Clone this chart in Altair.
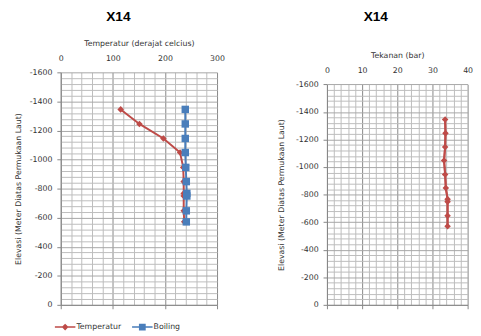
import altair as alt
import pandas as pd

# ---- data ----
elevation = [-1345, -1245, -1145, -1048, -946, -848, -767, -749, -647, -571]
temperatur = [115, 151, 197, 229, 235, 236, 236, 236, 236, 237]
boiling = [239, 239, 239, 239, 240, 241, 242, 242, 241, 241]
tekanan = [33.6, 33.7, 33.6, 33.3, 33.6, 33.8, 34.3, 34.3, 34.3, 34.3]
series_names = ["Temperatur", "Boiling"]

RED = "#BE4B48"
BLUE = "#4A7EBB"
FONT = "DejaVu Sans"
AXIS_COLOR = "#868686"
MINOR_GRID = "#bcbcbc"
TEXT = "#333333"

# legend glyphs: a short line with the marker on it (filled paths)
LEG_DIAMOND = "M-1,-0.07H1V0.07H-1Z M0,-0.33L0.33,0L0,0.33L-0.33,0Z"
LEG_SQUARE = "M-1,-0.07H1V0.07H-1Z M-0.33,-0.33H0.33V0.33H-0.33Z"

n = len(elevation)
idx = list(range(n))
left_df = pd.DataFrame({
    "elev": elevation * 2,
    "val": temperatur + boiling,
    "series": [series_names[0]] * n + [series_names[1]] * n,
    "idx": idx * 2,
})
right_df = pd.DataFrame({"elev": elevation, "val": tekanan, "idx": idx})


def y_axis(title_pad):
    return alt.Axis(
        orient="left", values=list(range(-1600, 1, 40)),
        labelExpr="datum.value % 200 === 0 ? '' + datum.value : ''",
        labelOverlap=False, labelFlush=False,
        grid=True,
        gridColor={"condition": {"test": "datum.value % 200 === 0", "value": "#a6a6a6"}, "value": MINOR_GRID},
        tickOpacity={"condition": {"test": "datum.value % 200 === 0", "value": 1}, "value": 0},
        tickSize=4, tickColor=AXIS_COLOR, domainColor=AXIS_COLOR,
        labelFont=FONT, labelFontSize=8, labelColor=TEXT, labelPadding=5,
        title="Elevasi (Meter Diatas Permukaan Laut)", titleFont=FONT, titleFontSize=8,
        titleFontWeight="normal", titleColor=TEXT, titlePadding=title_pad,
    )


def x_top(maxv, major, minor, title, label_pad, title_pad, offset=0):
    return alt.Axis(
        orient="top", values=list(range(0, maxv + 1, minor)),
        labelExpr=f"datum.value % {major} === 0 ? '' + datum.value : ''",
        labelOverlap=False, labelFlush=False,
        grid=True,
        gridColor={"condition": {"test": f"datum.value % {major} === 0", "value": AXIS_COLOR}, "value": MINOR_GRID},
        ticks=False, tickSize=0, domain=False, offset=offset,
        labelFont=FONT, labelFontSize=8, labelColor=TEXT, labelPadding=label_pad,
        title=title, titleFont=FONT, titleFontSize=8, titleFontWeight="normal",
        titleColor=TEXT, titlePadding=title_pad,
    )


def x_bottom(maxv, major):
    return alt.Axis(
        orient="bottom", values=list(range(0, maxv + 1, major)), labels=False,
        grid=False, ticks=True, tickSize=4, tickColor=AXIS_COLOR,
        domain=True, domainColor=AXIS_COLOR, title=None,
    )


legend = alt.Legend(
    orient="none", legendX=-6, legendY=250, direction="horizontal", title=None,
    labelFont=FONT, labelFontSize=8, labelColor=TEXT, labelOffset=1,
    symbolSize=441, symbolStrokeWidth=0, symbolOpacity=1, columnPadding=11,
)

# ---------------- left panel ----------------
y_left = alt.Y("elev:Q", scale=alt.Scale(domain=[-1600, 0], reverse=True, nice=False), axis=y_axis(7))
x_scale_l = alt.Scale(domain=[0, 300], nice=False)

base_l = alt.Chart(left_df)
t_line = base_l.transform_filter(alt.datum.series == "Temperatur").mark_line(strokeWidth=2, color=RED).encode(
    x=alt.X("val:Q", scale=x_scale_l, axis=x_top(300, 100, 20, "Temperatur (derajat celcius)", 10.5, 7)),
    y=y_left, order="idx:Q")
t_pts = base_l.transform_filter(alt.datum.series == "Temperatur").mark_point(
    filled=True, shape="diamond", size=45, opacity=1, color=RED).encode(
    x=alt.X("val:Q", scale=x_scale_l, axis=None), y=y_left)
b_line = base_l.transform_filter(alt.datum.series == "Boiling").mark_line(strokeWidth=2, color=BLUE).encode(
    x=alt.X("val:Q", scale=x_scale_l, axis=x_bottom(300, 100)),
    y=y_left, order="idx:Q")
b_pts = base_l.transform_filter(alt.datum.series == "Boiling").mark_point(
    filled=True, shape="square", size=58, opacity=1, color=BLUE).encode(
    x=alt.X("val:Q", scale=x_scale_l, axis=None), y=y_left)
leg_layer = base_l.mark_point(filled=True, opacity=0).encode(
    x=alt.X("val:Q", scale=x_scale_l, axis=None), y=y_left,
    color=alt.Color("series:N", scale=alt.Scale(domain=series_names, range=[RED, BLUE]), legend=legend),
    shape=alt.Shape("series:N", scale=alt.Scale(domain=series_names, range=[LEG_DIAMOND, LEG_SQUARE]), legend=legend),
)

left = alt.layer(t_line, t_pts, b_line, b_pts, leg_layer).resolve_axis(x="independent").properties(
    width=160, height=238,
    title=alt.TitleParams("X14", font="Liberation Sans", fontSize=14, fontWeight="bold",
                          color="#000000", anchor="middle", frame="group", dx=-21, offset=16.5),
)

# ---------------- right panel ----------------
y_right = alt.Y("elev:Q", scale=alt.Scale(domain=[-1600, 0], range=[12.3, 238], nice=False), axis=y_axis(10))
x_scale_r = alt.Scale(domain=[0, 40], nice=False)
base_r = alt.Chart(right_df)
p_line = base_r.mark_line(strokeWidth=2, color=RED).encode(
    x=alt.X("val:Q", scale=x_scale_r, axis=x_top(40, 10, 2, "Tekanan (bar)", 10, 7, offset=-12.3)),
    y=y_right, order="idx:Q")
p_axis = base_r.mark_line(strokeWidth=2, color=RED).encode(
    x=alt.X("val:Q", scale=x_scale_r, axis=x_bottom(40, 10)),
    y=y_right, order="idx:Q")
p_pts = base_r.mark_point(filled=True, shape="diamond", size=45, opacity=1, color=RED).encode(
    x=alt.X("val:Q", scale=x_scale_r, axis=None), y=y_right)

right = alt.layer(p_line, p_axis, p_pts).resolve_axis(x="independent").properties(
    width=144, height=238,
    title=alt.TitleParams("X14", font="Liberation Sans", fontSize=14, fontWeight="bold",
                          color="#000000", anchor="middle", frame="group", dx=-22, offset=28.5),
)

chart = alt.hconcat(left, right, spacing=53.5).properties(
    padding={"left": 6, "top": -2, "right": 0, "bottom": 0}
).configure_view(stroke=None)

chart.save("out.html", embed_options={"renderer": "svg", "actions": False})
